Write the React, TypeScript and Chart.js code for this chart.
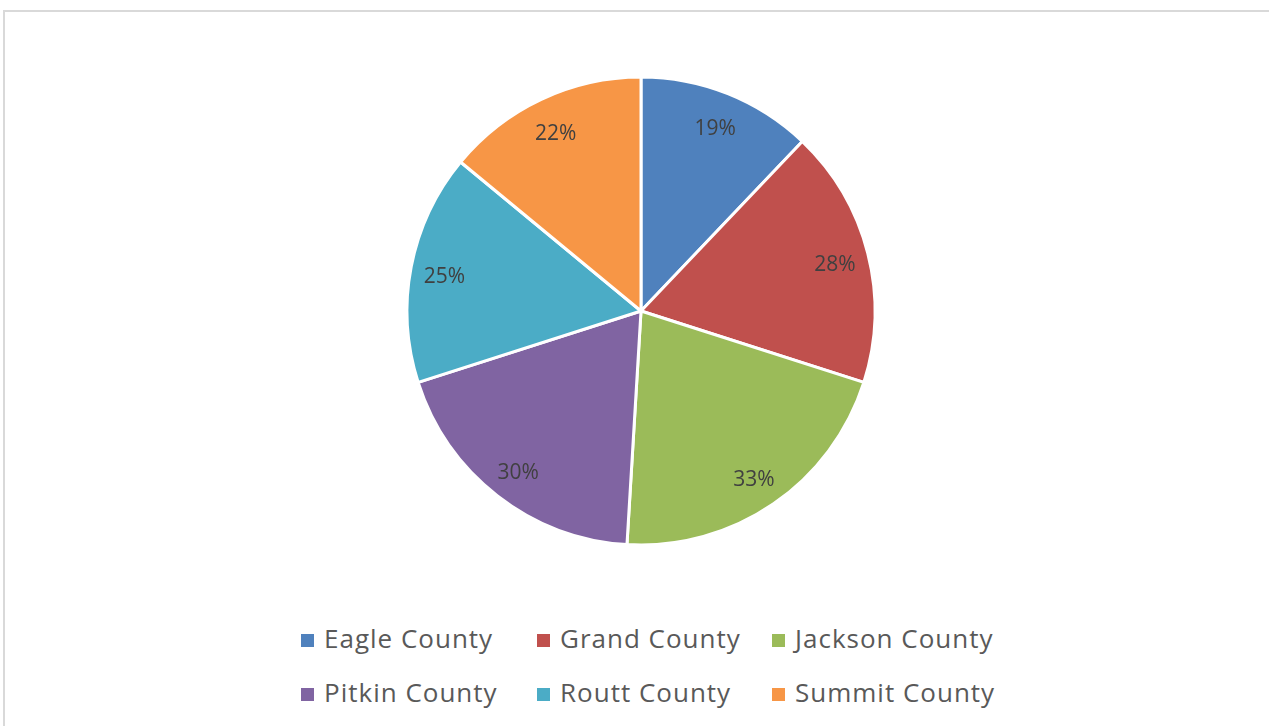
import React, { useEffect, useRef } from "react";
import { Chart, registerables } from "chart.js";

Chart.register(...registerables);

const categories: string[] = [
  "Eagle County",
  "Grand County",
  "Jackson County",
  "Pitkin County",
  "Routt County",
  "Summit County",
];
const values: number[] = [19, 28, 33, 30, 25, 22];
const valueLabels: string[] = ["19%", "28%", "33%", "30%", "25%", "22%"];
const colors: string[] = ["#4F81BD", "#C0504D", "#9BBB59", "#8064A2", "#4BACC6", "#F79646"];

const FONT = "'Open Sans', 'Liberation Sans', sans-serif";

const sliceLabelPlugin = {
  id: "sliceLabels",
  afterDatasetsDraw(chart: any) {
    const ctx = chart.ctx;
    const meta = chart.getDatasetMeta(0);
    ctx.save();
    ctx.font = `21px ${FONT}`;
    ctx.fillStyle = "#404040";
    ctx.textAlign = "center";
    ctx.textBaseline = "middle";
    meta.data.forEach((arc: any, i: number) => {
      const p = arc.getProps(["x", "y", "startAngle", "endAngle", "outerRadius"], true);
      const mid = (p.startAngle + p.endAngle) / 2;
      const r = p.outerRadius * 0.855;
      ctx.fillText(valueLabels[i], p.x + Math.cos(mid) * r, p.y + Math.sin(mid) * r + 4);
    });
    ctx.restore();
  },
};

const legendCols = [301, 537, 772];
const legendRows = [634, 688];

export default function App() {
  const ref = useRef<HTMLCanvasElement | null>(null);

  useEffect(() => {
    if (!ref.current) return;
    const chart = new Chart(ref.current, {
      type: "pie",
      data: {
        labels: categories,
        datasets: [
          {
            data: values,
            backgroundColor: colors,
            borderColor: "#ffffff",
            borderWidth: 3,
            radius: 234,
            hoverOffset: 0,
          },
        ],
      },
      options: {
        responsive: false,
        animation: false,
        layout: { padding: 0 },
        plugins: {
          legend: { display: false },
          tooltip: { enabled: false },
        },
      },
      plugins: [sliceLabelPlugin],
    });
    return () => chart.destroy();
  }, []);

  return (
    <div
      style={{
        position: "fixed",
        left: 0,
        top: 0,
        width: 1269,
        height: 726,
        overflow: "hidden",
        background: "#ffffff",
        fontFamily: FONT,
      }}
    >
      <div
        style={{
          position: "absolute",
          left: 3,
          top: 10,
          width: 1400,
          height: 900,
          border: "2px solid #d9d9d9",
          boxSizing: "border-box",
        }}
      />
      <canvas
        ref={ref}
        width={500}
        height={500}
        style={{ position: "absolute", left: 391, top: 61, width: 500, height: 500 }}
      />
      {categories.map((c, i) => {
        const col = i % 3;
        const row = Math.floor(i / 3);
        const x = legendCols[col];
        const y = legendRows[row];
        return (
          <React.Fragment key={c}>
            <div
              style={{
                position: "absolute",
                left: x,
                top: y,
                width: 13,
                height: 13,
                background: colors[i],
              }}
            />
            <div
              style={{
                position: "absolute",
                left: x + 23,
                top: y - 11,
                fontSize: 26,
                lineHeight: "30px",
                letterSpacing: 1,
                color: "#595959",
                whiteSpace: "nowrap",
              }}
            >
              {c}
            </div>
          </React.Fragment>
        );
      })}
    </div>
  );
}
